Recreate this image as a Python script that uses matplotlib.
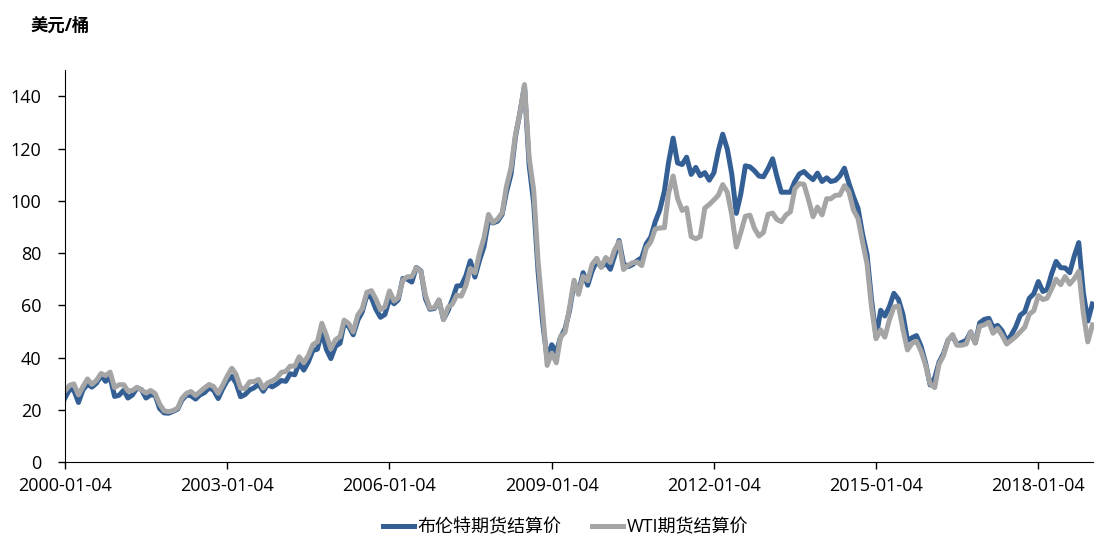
import matplotlib
matplotlib.use("Agg")
import matplotlib.pyplot as plt
import matplotlib.dates as mdates
import pandas as pd

plt.rcParams['font.family'] = ['Open Sans', 'Noto Sans CJK SC', 'DejaVu Sans']

# monthly settlement prices (USD/bbl), 2000-01 .. 2019-01
brent = [
    24.5, 27.8, 27.5, 22.8, 27.6, 29.8, 28.7, 30.2, 33.1, 30.9, 32.5, 25.1,   # 2000
    25.6, 27.5, 24.5, 25.7, 28.4, 27.7, 24.5, 25.7, 25.6, 20.5, 18.8, 18.7,   # 2001
    19.4, 20.3, 23.7, 25.7, 25.4, 24.1, 25.7, 26.6, 28.4, 27.5, 24.3, 28.0,   # 2002
    31.2, 32.8, 30.3, 25.0, 25.8, 27.6, 28.4, 29.8, 27.1, 29.6, 28.8, 29.8,   # 2003
    31.2, 30.9, 33.8, 33.4, 37.9, 35.2, 38.2, 42.7, 43.2, 49.8, 43.1, 39.6,   # 2004
    44.3, 45.5, 53.1, 51.9, 48.7, 54.3, 57.5, 63.9, 62.9, 58.5, 55.4, 56.5,   # 2005
    62.3, 60.6, 62.1, 70.3, 70.0, 68.9, 74.5, 73.2, 62.5, 58.5, 58.8, 62.0,   # 2006
    54.6, 58.0, 62.1, 67.4, 67.5, 71.3, 77.0, 70.8, 77.2, 82.4, 92.5, 91.5,   # 2007
    92.2, 94.8, 103.3, 110.2, 124.6, 134.0, 144.0, 113.9, 99.1, 72.8, 53.2, 39.5,  # 2008
    44.9, 42.0, 47.7, 51.0, 57.9, 68.6, 64.9, 72.5, 67.7, 73.2, 77.0, 74.7,   # 2009
    76.2, 73.8, 78.8, 84.8, 75.9, 74.8, 75.6, 77.1, 78.2, 83.5, 86.1, 92.0,   # 2010
    96.5, 103.7, 114.6, 124.0, 114.5, 113.9, 116.7, 110.1, 112.8, 109.6, 110.8, 107.9,  # 2011
    110.7, 119.3, 125.5, 119.8, 110.3, 95.2, 102.6, 113.4, 113.0, 111.5, 109.5, 109.2,  # 2012
    112.3, 116.1, 109.5, 103.3, 103.3, 103.3, 107.4, 110.3, 111.2, 109.5, 108.1, 110.6,  # 2013
    107.4, 108.8, 107.4, 107.8, 109.5, 112.5, 106.8, 101.6, 97.1, 87.4, 79.4, 62.3,  # 2014
    47.8, 58.1, 55.9, 59.5, 64.6, 62.3, 56.6, 46.5, 47.6, 48.4, 44.3, 38.0,   # 2015
    29.5, 32.2, 38.2, 41.6, 46.7, 48.3, 44.9, 45.8, 46.6, 49.8, 45.6, 53.3,   # 2016
    54.6, 55.0, 51.6, 52.3, 50.3, 46.4, 48.5, 51.7, 56.2, 57.5, 62.7, 64.4,   # 2017
    69.1, 65.3, 66.0, 72.1, 76.8, 74.4, 74.3, 72.5, 78.9, 84.0, 64.8, 54.0,   # 2018
    60.5,                                                                     # 2019
]
wti = [
    27.2, 29.4, 29.9, 25.7, 28.8, 31.8, 29.7, 31.3, 33.9, 33.1, 34.4, 28.5,   # 2000
    29.6, 29.6, 27.2, 27.4, 28.6, 27.6, 26.4, 27.4, 26.2, 22.2, 19.6, 19.3,   # 2001
    19.7, 20.7, 24.4, 26.3, 27.0, 25.5, 26.9, 28.4, 29.7, 28.9, 26.3, 29.4,   # 2002
    32.9, 35.9, 33.6, 28.3, 28.1, 30.7, 30.8, 31.6, 28.3, 30.3, 31.1, 32.1,   # 2003
    34.3, 34.7, 36.7, 36.7, 40.3, 38.0, 40.7, 44.9, 46.0, 53.1, 48.5, 43.3,   # 2004
    46.8, 48.0, 54.3, 53.0, 49.8, 56.3, 58.7, 65.0, 65.6, 62.4, 58.3, 59.4,   # 2005
    65.5, 61.6, 62.9, 69.7, 70.9, 71.0, 74.4, 73.0, 63.8, 58.9, 59.1, 62.0,   # 2006
    54.5, 59.3, 60.4, 63.9, 63.5, 67.5, 74.1, 72.4, 79.9, 85.8, 94.8, 91.7,   # 2007
    93.0, 95.4, 105.5, 112.6, 125.4, 133.9, 144.5, 116.7, 104.1, 76.6, 57.3, 37.0,  # 2008
    41.7, 38.0, 47.9, 49.7, 59.0, 69.6, 64.2, 71.1, 69.4, 75.7, 78.0, 74.5,   # 2009
    78.3, 76.4, 81.2, 84.3, 73.7, 75.3, 76.3, 76.6, 75.2, 81.9, 84.3, 89.2,   # 2010
    89.6, 89.7, 102.9, 109.5, 100.9, 96.3, 97.3, 86.3, 85.5, 86.3, 97.2, 98.6,   # 2011
    100.3, 102.2, 106.2, 103.3, 94.7, 82.3, 87.9, 94.1, 94.5, 89.5, 86.5, 87.9,  # 2012
    94.8, 95.3, 92.9, 92.0, 94.5, 95.8, 104.6, 106.6, 106.3, 100.5, 93.9, 97.6,  # 2013
    94.6, 100.8, 100.8, 102.1, 102.2, 105.8, 103.6, 96.5, 93.2, 84.4, 75.8, 59.3,  # 2014
    47.2, 50.6, 47.8, 54.5, 59.3, 59.8, 50.9, 42.9, 45.5, 46.2, 42.4, 37.2,   # 2015
    30.0, 28.5, 37.5, 40.8, 46.7, 48.8, 44.7, 44.7, 45.2, 49.8, 45.7, 52.0,   # 2016
    52.5, 53.5, 49.3, 51.1, 48.5, 45.2, 46.6, 48.0, 49.8, 51.6, 56.6, 57.9,   # 2017
    63.7, 62.2, 62.7, 66.3, 70.0, 67.9, 71.0, 68.1, 70.2, 73.0, 57.0, 46.0,   # 2018
    52.5,                                                                     # 2019
]
dates = pd.date_range('2000-01-01', periods=len(brent), freq='MS') + pd.Timedelta(days=3)

tick_dates = pd.to_datetime(['2000-01-04', '2003-01-04', '2006-01-04', '2009-01-04',
                             '2012-01-04', '2015-01-04', '2018-01-04'])

fig = plt.figure(figsize=(10.94, 5.36), dpi=100)
ax = fig.add_axes([0.0594, 0.138, 0.9406, 0.731])

ax.plot(dates, brent, color='#335f95', lw=3.6, label='布伦特期货结算价', solid_joinstyle='round')
ax.plot(dates, wti, color='#a5a5a5', lw=3.6, label='WTI期货结算价', solid_joinstyle='round')

ax.set_xlim(pd.Timestamp('2000-01-04'), pd.Timestamp('2019-01-15'))
ax.set_ylim(0, 150)
ax.set_yticks(range(0, 141, 20))
ax.set_xticks(tick_dates)
ax.xaxis.set_major_formatter(mdates.DateFormatter('%Y-%m-%d'))

for s in ['top', 'right']:
    ax.spines[s].set_visible(False)
ax.spines['left'].set_color('black')
ax.spines['bottom'].set_color('black')
ax.tick_params(axis='both', direction='out', length=5, width=1, labelsize=13)
ax.tick_params(axis='x', pad=6)
ax.tick_params(axis='y', pad=12)

fig.text(0.028, 0.952, '美元/桶', fontsize=12.5, fontweight='bold', ha='left', va='center')

fig.legend(loc='center', bbox_to_anchor=(0.517, 0.016), ncol=2, frameon=False,
           fontsize=13, handlelength=1.7, columnspacing=1.7, handletextpad=0.2)

fig.savefig('out.png', dpi=100)
